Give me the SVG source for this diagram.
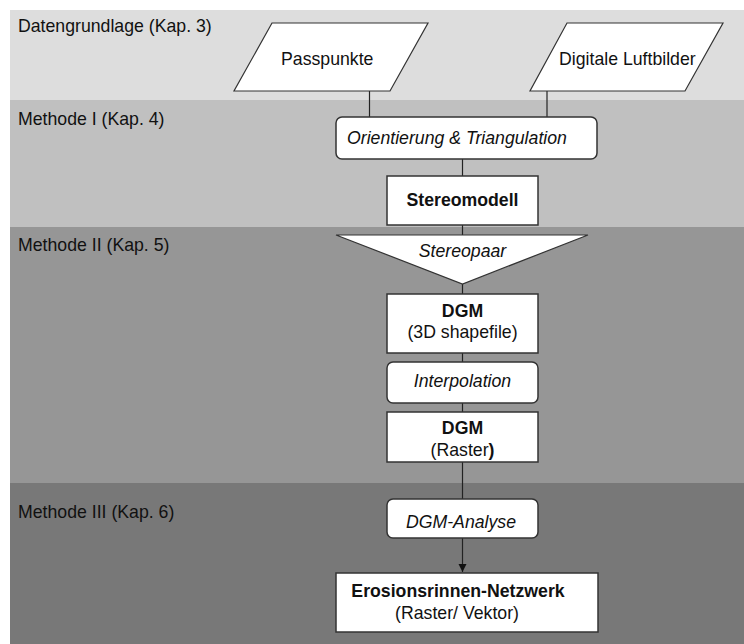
<svg xmlns="http://www.w3.org/2000/svg" width="744" height="644" viewBox="0 0 744 644">
<style>
text{font-family:"Liberation Sans",Arial,sans-serif;font-size:17.7px;fill:#111}
.lbl{fill:#111}
.it{font-style:italic}
.b{font-weight:bold}
.box{fill:#fff;stroke:#333;stroke-width:1.5}
.para{fill:#fff;stroke:#333;stroke-width:1.2}
.ln{stroke:#222;stroke-width:1.2;fill:none}
</style>
<defs>
<marker id="ah" markerWidth="10" markerHeight="10" refX="8" refY="5" orient="auto" markerUnits="userSpaceOnUse">
<path d="M0,1 L8,5 L0,9 Z" fill="#111"/>
</marker>
</defs>
<rect width="744" height="644" fill="#fff"/>
<g id="bands">
<rect x="10" y="10" width="734" height="90" fill="#dddddd"/>
<rect x="10" y="100" width="734" height="127" fill="#c0c0c0"/>
<rect x="10" y="227" width="734" height="256" fill="#969696"/>
<rect x="10" y="483" width="734" height="161" fill="#787878"/>
<text class="lbl" x="18" y="32">Datengrundlage (Kap. 3)</text>
<text class="lbl" x="18" y="125">Methode I (Kap. 4)</text>
<text class="lbl" x="18" y="251">Methode II (Kap. 5)</text>
<text class="lbl" x="18" y="518">Methode III (Kap. 6)</text>
</g>
<g id="connectors">
<line class="ln" x1="369.5" y1="91" x2="369.5" y2="117"/>
<line class="ln" x1="547" y1="91" x2="547" y2="117"/>
<line class="ln" x1="462.5" y1="159" x2="462.5" y2="176"/>
<line class="ln" x1="462.5" y1="225" x2="462.5" y2="235"/>
<line class="ln" x1="462.5" y1="284" x2="462.5" y2="294"/>
<line class="ln" x1="462.5" y1="353" x2="462.5" y2="362"/>
<line class="ln" x1="462.5" y1="403" x2="462.5" y2="412"/>
<line class="ln" x1="462.5" y1="462" x2="462.5" y2="499"/>
<line class="ln" x1="462.5" y1="538" x2="462.5" y2="572" marker-end="url(#ah)"/>
</g>
<g id="passpunkte">
<polygon class="para" points="272,23 428,23 390,91 234,91"/>
<text x="281" y="65">Passpunkte</text>
</g>
<g id="luftbilder">
<polygon class="para" points="567,23 723,23 685,91 530,91"/>
<text x="559" y="65">Digitale Luftbilder</text>
</g>
<g id="orientierung">
<rect class="box" x="336" y="117" width="261" height="42" rx="6"/>
<text class="it" x="347" y="144">Orientierung &amp; Triangulation</text>
</g>
<g id="stereomodell">
<rect class="box" x="387" y="176" width="151" height="49"/>
<text class="b" x="462.5" y="206" text-anchor="middle">Stereomodell</text>
</g>
<g id="stereopaar">
<polygon class="para" points="336,235 588,235 462.5,284"/>
<text class="it" x="462.5" y="257" text-anchor="middle">Stereopaar</text>
</g>
<g id="dgm3d">
<rect class="box" x="387" y="294" width="151" height="59"/>
<text class="b" x="462.5" y="317" text-anchor="middle">DGM</text>
<text x="462.5" y="338" text-anchor="middle">(3D shapefile)</text>
</g>
<g id="interpolation">
<rect class="box" x="387" y="362" width="151" height="41" rx="6"/>
<text class="it" x="462.5" y="387" text-anchor="middle">Interpolation</text>
</g>
<g id="dgmraster">
<rect class="box" x="387" y="412" width="151" height="50"/>
<text class="b" x="462.5" y="434" text-anchor="middle">DGM</text>
<text x="462.5" y="456" text-anchor="middle">(Raster<tspan class="b">)</tspan></text>
</g>
<g id="analyse">
<rect class="box" x="387" y="499" width="151" height="39" rx="6"/>
<text class="it" x="461" y="528" text-anchor="middle">DGM-Analyse</text>
</g>
<g id="erosion">
<rect class="box" x="336" y="573" width="262" height="59"/>
<text class="b" x="458" y="597" text-anchor="middle">Erosionsrinnen-Netzwerk</text>
<text x="457" y="619" text-anchor="middle">(Raster/ Vektor)</text>
</g>
</svg>
